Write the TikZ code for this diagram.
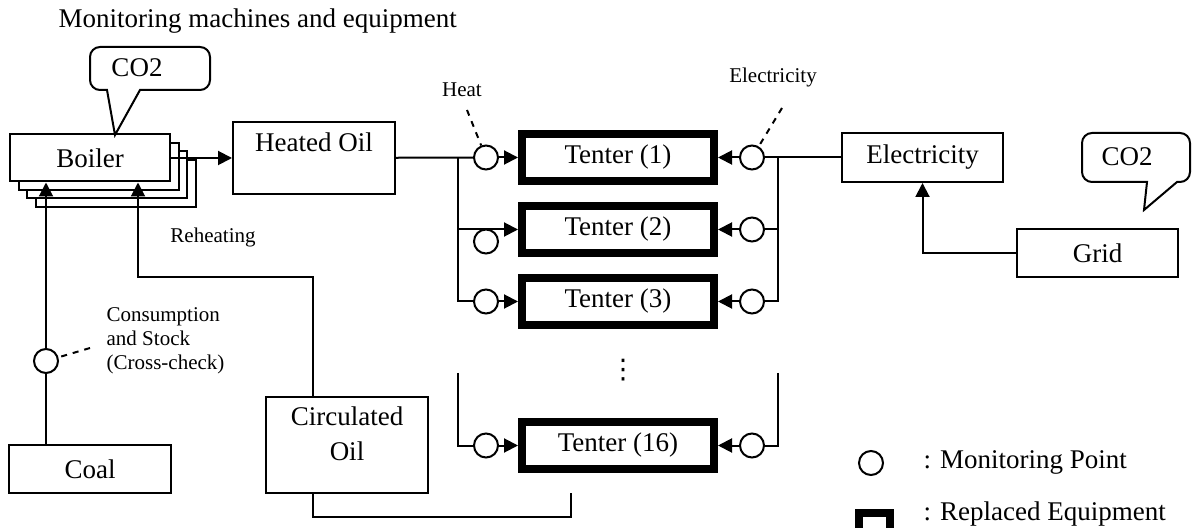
\documentclass[tikz,border=0pt]{standalone}
\usepackage{fontspec}
\setmainfont{Liberation Serif}
\newfontfamily\ellfont{DejaVu Sans}
\usetikzlibrary{arrows.meta,positioning}
\newcommand{\mainsize}{\fontsize{13.5}{17.5}\selectfont}
\newcommand{\notesize}{\fontsize{10.5}{12}\selectfont}
\begin{document}
\begin{tikzpicture}[x=0.5pt, y=-0.5pt, line width=1pt, >={Triangle[length=7pt,width=7pt]},
  box/.style={draw, fill=white, minimum width=81pt, minimum height=24pt, font=\mainsize},
  tenter/.style={draw, line width=4pt, minimum width=96pt, minimum height=23.5pt, font=\mainsize},
  meter/.style={draw, circle, fill=white, minimum size=12pt, inner sep=0pt},
  note/.style={font=\notesize}, node distance=8.5pt]
\useasboundingbox (0,0) rectangle (1192,528);
\node[anchor=base west, font=\mainsize] (title) at (51,28) {Monitoring machines and equipment};

\foreach \k in {3,2,1}
  \draw[fill=white] (10+8.5*\k,134.5+8.5*\k) rectangle (170+8.5*\k,181.5+8.5*\k);
\node[box, minimum width=80pt, minimum height=23.5pt] (boiler) at (90,158) {Boiler};
\node[box, minimum height=36pt, text height=9pt, text depth=15.5pt] (heat) at (314,158) {Heated Oil};
\node[box, minimum height=48pt, text height=26pt, text depth=10.5pt] (circ) at (347,445) {\begin{tabular}[b]{@{}c@{}}Circulated\\Oil\end{tabular}};
\node[box] (coal) at (90,469) {Coal};
\node[box, minimum width=80.5pt, minimum height=24.5pt] (elec) at (922.5,157.5) {Electricity};
\node[box, minimum width=80.5pt] (grid) at (1097.5,253) {Grid};

\node[tenter] (t1) at (618,157.5) {Tenter (1)};
\node[tenter, below=of t1] (t2) {Tenter (2)};
\node[tenter, below=of t2] (t3) {Tenter (3)};
\node[tenter, below=44.5pt of t3] (t16) {Tenter (16)};
\node[font=\mainsize\ellfont] (dots) at (623,370) {⋮};

\foreach \i in {1,3,16} \node[meter, left=9.5pt of t\i] (h\i) {};
\node[meter, left=9.5pt of t2, yshift=-6pt] (h2) {};
\foreach \i in {1,2,3,16} \node[meter, right=10.5pt of t\i] (e\i) {};
\node[meter] (mc) at (46,361) {};

\coordinate (hx) at (458,0);
\coordinate (ex) at (778,0);
\coordinate (hsplit) at (458,373);
\coordinate (esplit) at (778,373);
\draw[->] (boiler) -- (heat);
\draw (heat) -- (h1);
\draw (hx |- h1) -- (hx |- t3) -- (h3);
\draw[->] (hx |- t2) -- (t2);
\draw (hsplit) |- (h16);
\foreach \i in {1,3,16} \draw[->] (h\i) -- (t\i);
\draw (elec) -- (e1);
\draw (ex |- e1) -- (ex |- e3) -- (e3);
\draw (ex |- e2) -- (e2);
\draw (esplit) |- (e16);
\foreach \i in {1,2,3,16} \draw[->] (e\i) -- (t\i);
\draw[->] (grid) -| (elec);

\draw (coal.north -| mc) -- (mc);
\draw[->] (mc) -- (mc |- boiler.south);
\coordinate (cx) at (313,277);
\coordinate (rh) at (138,277);
\draw[->] (circ.north -| cx) -- (cx) -- (rh) -- (rh |- boiler.south);
\coordinate (ret) at (570.5,517);
\coordinate (retend) at (570.5,493);
\draw (circ.south -| cx) |- (ret) -- (retend);

\node[note] (heatlbl) at (462,90) {Heat};
\coordinate (htail) at (467,110);
\draw[dashed] (htail) -- (h1);
\node[note] (eleclbl) at (773,77) {Electricity};
\coordinate (etail) at (782,108);
\draw[dashed] (etail) -- (e1);
\node[note, anchor=west, align=left] (coallbl) at (99,341) {Consumption\\and Stock\\(Cross-check)};
\coordinate (ctail) at (90,348);
\draw[dashed] (ctail) -- (mc);
\node[note] (reheat) at (213,237) {Reheating};

\node[font=\mainsize] (co2a) at (137,68) {CO2};
\draw (140,90) [rounded corners=5pt] -- (210,90) -- (210,47) -- (90,47) -- (90,90) [sharp corners] -- (107,90) -- (115,135) -- cycle;
\node[font=\mainsize] (co2b) at (1127,157) {CO2};
\draw (1177,182) [rounded corners=5pt] -- (1190,182) -- (1190,133) -- (1082,133) -- (1082,182) [sharp corners] -- (1147,182) -- (1144,210) -- cycle;

\node[meter] (lgmeter) at (871,463) {};
\node[font=\mainsize, anchor=west] (lgmtxt) at (916,462) {: Monitoring Point};
\node[draw, line width=4pt, minimum width=15.5pt, minimum height=10pt] (lgtenter) at (874.5,523) {};
\node[font=\mainsize, anchor=west] (lgttxt) at (916,514) {: Replaced Equipment};
\end{tikzpicture}
\end{document}
